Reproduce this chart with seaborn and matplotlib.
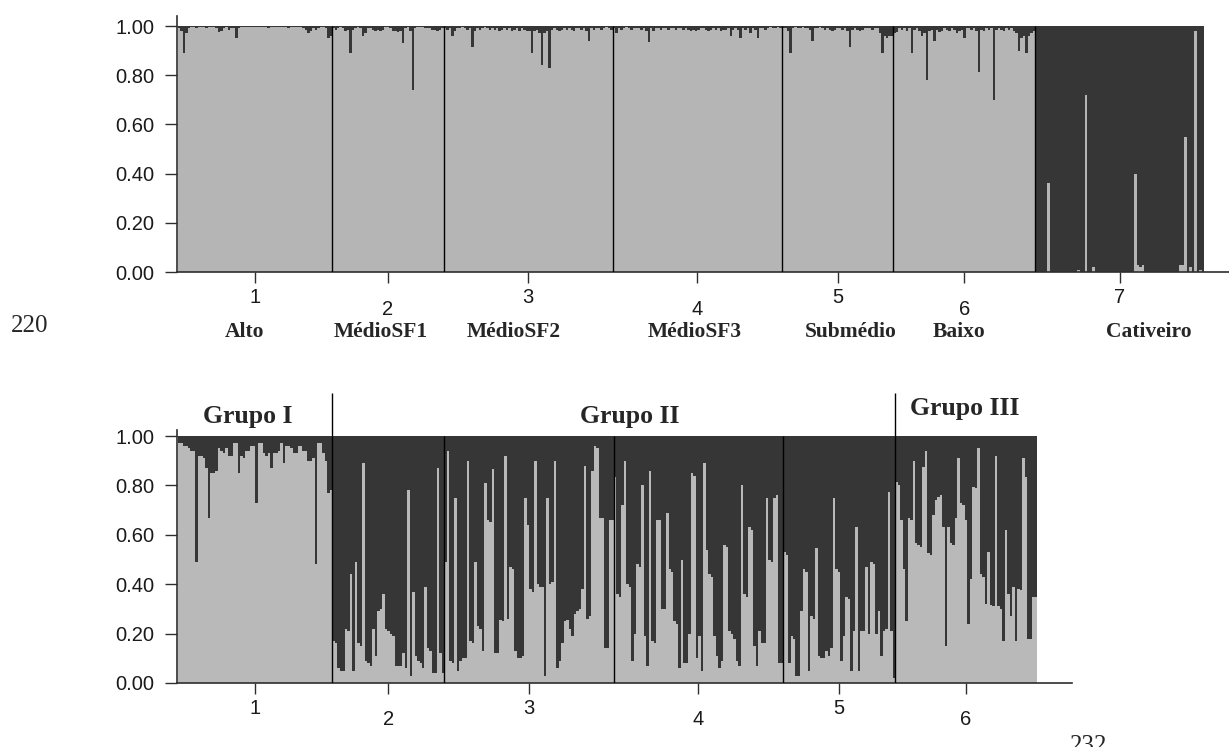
import numpy as np
import pandas as pd
import matplotlib
matplotlib.use("Agg")
import matplotlib.pyplot as plt
import seaborn as sns

# ---------------- data: membership to the light cluster (q1) per individual ----------------
# Upper panel (K=2, seven sampled groups)
top_pop1 = [0.99, 0.98, 0.89, 0.97, 0.99, 0.995, 0.995, 0.99, 0.995, 0.995,
            0.995, 0.99, 0.995, 0.995, 0.995, 0.99, 0.975, 0.98, 0.99, 0.995,
            0.985, 0.99, 0.99, 0.95, 0.99, 0.995, 0.995, 0.995, 0.995, 0.995,
            0.995, 0.995, 0.995, 0.995, 0.995, 0.995, 0.99, 0.995, 0.995, 0.995,
            0.995, 0.995, 0.995, 0.995, 0.99, 0.995, 0.995, 0.995, 0.995, 0.995,
            0.99, 0.985, 0.97, 0.98, 0.99, 0.985, 0.99, 0.995, 0.995, 0.99,
            0.95, 0.96]
top_pop2 = [0.99, 0.985, 0.99, 0.995, 0.99, 0.98, 0.985, 0.89, 0.985, 0.99,
            0.995, 0.99, 0.96, 0.97, 0.99, 0.99, 0.985, 0.98, 0.985, 0.98,
            0.985, 0.995, 0.995, 0.99, 0.98, 0.98, 0.975, 0.98, 0.93, 0.99,
            0.995, 0.98, 0.74, 0.99, 0.995, 0.995, 0.995, 0.99, 0.99, 0.99,
            0.985, 0.985, 0.98, 0.985, 0.99]
top_pop3 = [0.99, 0.985, 0.99, 0.96, 0.98, 0.99, 0.99, 0.995, 0.99, 0.985,
            0.99, 0.915, 0.98, 0.99, 0.985, 0.99, 0.995, 0.99, 0.985, 0.99,
            0.985, 0.99, 0.98, 0.985, 0.99, 0.985, 0.99, 0.98, 0.985, 0.99,
            0.98, 0.99, 0.985, 0.98, 0.98, 0.89, 0.98, 0.985, 0.97, 0.84,
            0.97, 0.98, 0.83, 0.985, 0.99, 0.985, 0.98, 0.985, 0.99, 0.985,
            0.99, 0.985, 0.98, 0.99, 0.99, 0.985, 0.99, 0.98, 0.94, 0.99,
            0.985, 0.99, 0.99, 0.985, 0.99, 0.995, 0.99, 0.985]
top_pop4 = [0.99, 0.97, 0.99, 0.985, 0.99, 0.995, 0.99, 0.985, 0.99, 0.99,
            0.99, 0.985, 0.99, 0.98, 0.935, 0.99, 0.98, 0.99, 0.99, 0.985,
            0.99, 0.99, 0.985, 0.99, 0.99, 0.985, 0.99, 0.99, 0.985, 0.99,
            0.985, 0.98, 0.985, 0.98, 0.985, 0.99, 0.99, 0.985, 0.98, 0.985,
            0.99, 0.985, 0.99, 0.98, 0.985, 0.985, 0.99, 0.96, 0.985, 0.99,
            0.985, 0.95, 0.99, 0.985, 0.99, 0.97, 0.99, 0.985, 0.95, 0.99,
            0.99, 0.985, 0.99, 0.995, 0.99, 0.99, 0.995, 0.99]
top_pop5 = [0.99, 0.99, 0.98, 0.89, 0.99, 0.995, 0.99, 0.99, 0.995, 0.99,
            0.99, 0.985, 0.94, 0.99, 0.99, 0.995, 0.99, 0.985, 0.99, 0.985,
            0.98, 0.985, 0.99, 0.99, 0.985, 0.99, 0.98, 0.915, 0.985, 0.99,
            0.985, 0.98, 0.985, 0.99, 0.99, 0.99, 0.985, 0.99, 0.99, 0.97,
            0.89, 0.96, 0.95, 0.96, 0.96]
top_pop6 = [0.97, 0.975, 0.99, 0.985, 0.99, 0.98, 0.99, 0.89, 0.985, 0.99,
            0.98, 0.96, 0.97, 0.78, 0.98, 0.985, 0.94, 0.985, 0.975, 0.98,
            0.99, 0.985, 0.98, 0.99, 0.985, 0.97, 0.98, 0.985, 0.95, 0.99,
            0.99, 0.985, 0.99, 0.98, 0.815, 0.985, 0.98, 0.99, 0.985, 0.99,
            0.70, 0.985, 0.99, 0.985, 0.98, 0.99, 0.985, 0.99, 0.98, 0.97,
            0.90, 0.95, 0.96, 0.89, 0.96, 0.97, 0.98]
top_pop7 = [0.00, 0.00, 0.00, 0.00, 0.00, 0.36, 0.00, 0.00, 0.00, 0.00,
            0.00, 0.00, 0.00, 0.00, 0.00, 0.00, 0.00, 0.01, 0.00, 0.00,
            0.72, 0.00, 0.00, 0.02, 0.00, 0.00, 0.00, 0.00, 0.00, 0.00,
            0.00, 0.00, 0.00, 0.00, 0.00, 0.00, 0.00, 0.00, 0.00, 0.00,
            0.40, 0.03, 0.02, 0.03, 0.00, 0.00, 0.00, 0.00, 0.00, 0.00,
            0.00, 0.00, 0.00, 0.00, 0.00, 0.00, 0.00, 0.00, 0.03, 0.03,
            0.55, 0.00, 0.02, 0.00, 0.98, 0.00, 0.01, 0.00]

# Lower panel (K=2, wild groups only)
bot_pop1 = [0.97, 0.97, 0.96, 0.96, 0.95, 0.94, 0.94, 0.49, 0.92, 0.92,
            0.91, 0.87, 0.67, 0.85, 0.85, 0.86, 0.95, 0.94, 0.93, 0.95,
            0.92, 0.92, 0.97, 0.97, 0.85, 0.92, 0.91, 0.94, 0.94, 0.96,
            0.96, 0.73, 0.97, 0.97, 0.93, 0.92, 0.93, 0.87, 0.93, 0.93,
            0.94, 0.97, 0.89, 0.96, 0.96, 0.95, 0.93, 0.93, 0.96, 0.96,
            0.94, 0.94, 0.90, 0.90, 0.91, 0.48, 0.97, 0.97, 0.93, 0.90,
            0.77, 0.78]
bot_pop2 = [0.17, 0.16, 0.06, 0.05, 0.05, 0.22, 0.21, 0.44, 0.05, 0.49,
            0.16, 0.15, 0.89, 0.09, 0.08, 0.07, 0.22, 0.11, 0.29, 0.30,
            0.36, 0.22, 0.21, 0.20, 0.19, 0.07, 0.07, 0.07, 0.12, 0.06,
            0.78, 0.03, 0.37, 0.11, 0.09, 0.08, 0.06, 0.39, 0.14, 0.13,
            0.04, 0.04, 0.87, 0.12, 0.04]
bot_pop3 = [0.49, 0.94, 0.09, 0.08, 0.75, 0.05, 0.09, 0.10, 0.10, 0.90,
            0.17, 0.16, 0.49, 0.23, 0.22, 0.13, 0.81, 0.66, 0.65, 0.865,
            0.12, 0.12,
            0.255, 0.25, 0.92, 0.26, 0.47, 0.46, 0.13, 0.10, 0.10, 0.11,
            0.75, 0.64, 0.38, 0.37, 0.90, 0.40, 0.39, 0.39, 0.03, 0.75,
            0.40, 0.41, 0.90, 0.06, 0.09, 0.16, 0.25, 0.255, 0.22, 0.19,
            0.28, 0.29, 0.30, 0.38, 0.88, 0.26, 0.27, 0.86, 0.96, 0.95,
            0.67, 0.67, 0.14, 0.14, 0.66, 0.66]
bot_pop4 = [0.835, 0.36, 0.35, 0.72, 0.90, 0.40, 0.39, 0.09, 0.20, 0.48,
            0.47, 0.80, 0.19, 0.07, 0.86, 0.17, 0.16, 0.66, 0.66,
            0.30, 0.30, 0.69, 0.46, 0.45, 0.25, 0.24, 0.06, 0.50, 0.08,
            0.08, 0.20, 0.85, 0.84, 0.10, 0.19, 0.05, 0.89, 0.54, 0.44,
            0.43, 0.19, 0.11, 0.06, 0.09, 0.56, 0.55, 0.21, 0.20, 0.18,
            0.09, 0.07, 0.80, 0.36, 0.35, 0.63, 0.62, 0.15, 0.07, 0.21,
            0.16, 0.16, 0.75, 0.50, 0.49, 0.75, 0.76, 0.08, 0.08]
bot_pop5 = [0.53, 0.52, 0.08, 0.19, 0.18, 0.03, 0.03, 0.29, 0.46, 0.45,
            0.05, 0.27, 0.26, 0.545, 0.11, 0.10, 0.10, 0.13, 0.11,
            0.14, 0.75, 0.46, 0.45, 0.09, 0.19, 0.35, 0.34, 0.05, 0.21,
            0.63, 0.05, 0.21, 0.21, 0.47, 0.20, 0.49, 0.48, 0.20, 0.29,
            0.11, 0.21, 0.22, 0.775, 0.21, 0.02]
bot_pop6 = [0.815, 0.80, 0.66, 0.46, 0.25, 0.67, 0.66, 0.90, 0.565, 0.56,
            0.55, 0.875, 0.94, 0.525, 0.52, 0.68, 0.74, 0.755, 0.76, 0.63,
            0.15, 0.63, 0.565, 0.56, 0.67, 0.91, 0.73, 0.72, 0.66, 0.24,
            0.42, 0.795, 0.79, 0.95, 0.44, 0.43, 0.32, 0.53, 0.315, 0.31,
            0.92, 0.31, 0.30, 0.17, 0.62, 0.36, 0.27, 0.39, 0.17, 0.38,
            0.375, 0.91, 0.835, 0.18, 0.18, 0.35, 0.35]

pop_numbers = ["1", "2", "3", "4", "5", "6", "7"]
pop_names = ["Alto", "MédioSF1", "MédioSF2", "MédioSF3", "Submédio", "Baixo", "Cativeiro"]
group_names = ["Grupo I", "Grupo II", "Grupo III"]
y_ticks = [0.0, 0.2, 0.4, 0.6, 0.8, 1.0]
y_tick_labels = ["0.00", "0.20", "0.40", "0.60", "0.80", "1.00"]
page_numbers = ["220", "232"]

# ---------------- style ----------------
LIGHT_TOP = "#b5b5b5"
LIGHT_BOT = "#b9b9b9"
DARK = "#363636"
AXIS = "#2e2e2e"
sns.set_style("ticks")
plt.rcParams["font.family"] = ["Liberation Sans", "DejaVu Sans"]
SERIF = ["Liberation Serif", "DejaVu Serif"]

W, H = 1229, 747
fig = plt.figure(figsize=(W / 100, H / 100), dpi=100)


def px_axes(x0, y0, x1, y1):
    return fig.add_axes([x0 / W, 1 - y1 / H, (x1 - x0) / W, (y1 - y0) / H])


def structure_panel(ax, pops, light, bar_x0, bar_x1, ax_x0, ax_x1, y0px, ytop_px, y1px):
    q1 = np.concatenate([np.asarray(p, float) for p in pops])
    n = len(q1)
    df = pd.DataFrame({"ind": np.arange(n), "q1": q1})
    df["q2"] = 1 - df["q1"]
    df["total"] = df["q1"] + df["q2"]
    common = dict(x="ind", native_scale=True, width=1, saturation=1,
                  errorbar=None, linewidth=0, antialiased=False, ax=ax)
    sns.barplot(data=df, y="total", color=DARK, **common)
    sns.barplot(data=df, y="q1", color=light, **common)

    ppx = (bar_x1 - bar_x0) / n
    ax.set_xlim(-0.5 - (bar_x0 - ax_x0) / ppx, -0.5 + (ax_x1 - bar_x0) / ppx)
    unit = y0px - y1px
    ax.set_ylim(0, (y0px - ytop_px) / unit)

    counts = np.array([len(p) for p in pops])
    ends = np.cumsum(counts)
    centers = ends - counts / 2 - 0.5
    edges = ends[:-1] - 0.5
    return ax, centers, edges


def style_axes(ax, centers, labels, odd_pad, even_pad):
    sns.despine(ax=ax, top=True, right=True)
    for s in ("left", "bottom"):
        ax.spines[s].set_color(AXIS)
        ax.spines[s].set_linewidth(1.2)
    ax.set_yticks(y_ticks, y_tick_labels)
    ax.set_xticks(centers, labels)
    ax.tick_params(axis="y", length=8.5, width=1.0, color=AXIS, pad=8,
                   labelsize=14.5, labelcolor="#1a1a1a")
    ax.tick_params(axis="x", length=8, width=1.0, color=AXIS,
                   labelsize=14.5, labelcolor="#1a1a1a")
    for i, t in enumerate(ax.xaxis.get_major_ticks()):
        t.set_pad(odd_pad if i % 2 == 0 else even_pad)
    ax.set_xlabel("")
    ax.set_ylabel("")


# ---------------- upper panel ----------------
top_pops = [top_pop1, top_pop2, top_pop3, top_pop4, top_pop5, top_pop6, top_pop7]
ax1 = px_axes(177, 16, 1229, 272)
ax1, c1, e1 = structure_panel(ax1, top_pops, LIGHT_TOP, 178, 1204, 177, 1229, 272, 16, 26)
ax1.vlines(e1, 0, 1, color="black", linewidth=1.0, zorder=5)
style_axes(ax1, c1, pop_numbers, 3.5, 12.5)

name_x = [245, 381, 514, 695, 851, 959, 1149]
for nx, name in zip(name_x, pop_names):
    fig.text(nx / W, 1 - 332 / H, name, ha="center", va="center",
             family=SERIF, fontweight="bold", fontsize=15.5)

# ---------------- lower panel ----------------
bot_pops = [bot_pop1, bot_pop2, bot_pop3, bot_pop4, bot_pop5, bot_pop6]
ax2 = px_axes(177, 430, 1072, 683)
ax2, c2, e2 = structure_panel(ax2, bot_pops, LIGHT_BOT, 178, 1037, 177, 1072, 683, 430, 436)
ax2.vlines(e2, 0, 1, color="black", linewidth=1.0, zorder=5)
ax2.vlines([e2[0], e2[4]], 1, (683 - 393) / 247, color="black", linewidth=1.0,
           clip_on=False, zorder=5)
style_axes(ax2, c2, pop_numbers[:6], 3.5, 11.5)

group_pos = [(248, 423), (630, 423), (965, 415)]
for (gx, gy), g in zip(group_pos, group_names):
    fig.text(gx / W, 1 - gy / H, g, ha="center", va="baseline",
             family=SERIF, fontweight="bold", fontsize=18.5)

# page numbers of the source document
fig.text(30 / W, 1 - 326 / H, page_numbers[0], ha="center", va="center",
         family=SERIF, fontsize=18)
fig.text(1089 / W, 1 - 735 / H, page_numbers[1], ha="center", va="top",
         family=SERIF, fontsize=18)

fig.savefig("out.png", dpi=100)
